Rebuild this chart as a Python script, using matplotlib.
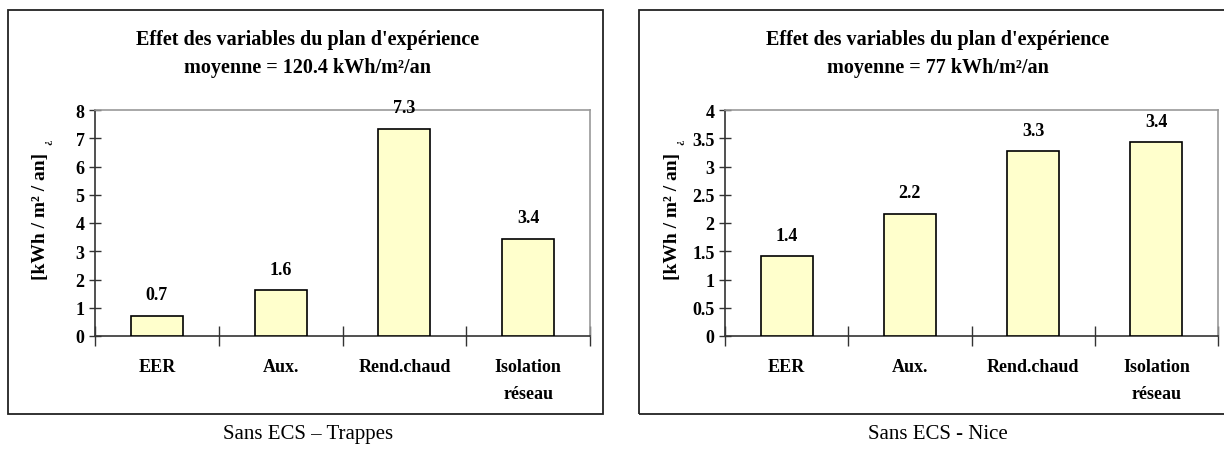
import matplotlib.pyplot as plt
from matplotlib.patches import Rectangle
import numpy as np

plt.rcParams['font.family'] = ['Liberation Serif', 'DejaVu Serif']

# données
categories = ["EER", "Aux.", "Rend.chaud", "Isolation\nréseau"]
trappes = [0.72, 1.62, 7.33, 3.44]
nice = [1.41, 2.16, 3.27, 3.43]
moy_trappes = "120.4"
moy_nice = "77"
yticks_trappes = [0, 1, 2, 3, 4, 5, 6, 7, 8]
yticks_nice = [0, 0.5, 1, 1.5, 2, 2.5, 3, 3.5, 4]
captions = ["Sans ECS – Trappes", "Sans ECS - Nice"]

W, H = 1224, 452
fig = plt.figure(figsize=(W / 100, H / 100), dpi=100)


def px(x0, y0, x1, y1):
    # rectangle en pixels (origine en haut à gauche) -> fraction figure
    return [x0 / W, 1 - y1 / H, (x1 - x0) / W, (y1 - y0) / H]


def draw_panel(box, axbox, values, yticks, moy, caption, ylab_x, cap_x):
    bx = px(*box)
    fig.patches.append(Rectangle((bx[0], bx[1]), bx[2], bx[3], transform=fig.transFigure,
                                 fill=False, edgecolor='#222222', linewidth=1.3, clip_on=False))
    ax = fig.add_axes(px(*axbox))
    x = np.arange(len(values))
    ax.bar(x, values, width=0.42, color='#FFFFCC', edgecolor='black', linewidth=1.2, zorder=3)
    for xi, v in zip(x, values):
        ax.annotate(f"{v:.1f}", (xi, v), xytext=(0, 9), textcoords='offset points',
                    ha='center', va='bottom', fontsize=13, fontweight='bold')
    ax.set_xlim(-0.5, len(values) - 0.5)
    ax.set_ylim(0, yticks[-1])
    ax.set_yticks(yticks)
    ax.set_yticklabels([f"{t:g}" for t in yticks], fontsize=13, fontweight='bold')
    ax.set_xticks(np.arange(len(values) + 1) - 0.5)
    ax.set_xticklabels([])
    ax.set_xticks(x, minor=True)
    ax.set_xticklabels(categories, minor=True, fontsize=13, fontweight='bold', linespacing=1.75)
    ax.tick_params(axis='y', direction='inout', length=9, width=1, color='#333333', pad=3)
    ax.tick_params(axis='x', which='major', direction='inout', length=14, width=1, color='#333333')
    ax.tick_params(axis='x', which='minor', length=0, pad=16)
    for s in ['left', 'bottom']:
        ax.spines[s].set_color('#333333')
        ax.spines[s].set_linewidth(1.2)
    for s in ['top', 'right']:
        ax.spines[s].set_color('#999999')
        ax.spines[s].set_linewidth(1.2)
    fig.text(cap_x / W, 1 - 40 / H, "Effet des variables du plan d'expérience",
             ha='center', va='center', fontsize=14.5, fontweight='bold')
    fig.text(cap_x / W, 1 - 68 / H, f"moyenne = {moy} kWh/m²/an",
             ha='center', va='center', fontsize=14.5, fontweight='bold')
    fig.text(ylab_x / W, 1 - 216 / H, "[kWh / m² / an]", rotation=90,
             ha='center', va='center', fontsize=14, fontweight='bold')
    fig.text((ylab_x + 7) / W, 1 - 142 / H, "¿", rotation=90,
             ha='center', va='center', fontsize=8, fontweight='bold')
    fig.text(cap_x / W, 1 - 435 / H, caption, ha='center', va='center', fontsize=15)


draw_panel((8, 11, 603, 415), (95, 111, 590, 337), trappes, yticks_trappes,
           moy_trappes, captions[0], 41, 308)
draw_panel((639, 11, 1240, 415), (725, 111, 1218, 337), nice, yticks_nice,
           moy_nice, captions[1], 673, 938)

fig.savefig("out.png", dpi=100)
